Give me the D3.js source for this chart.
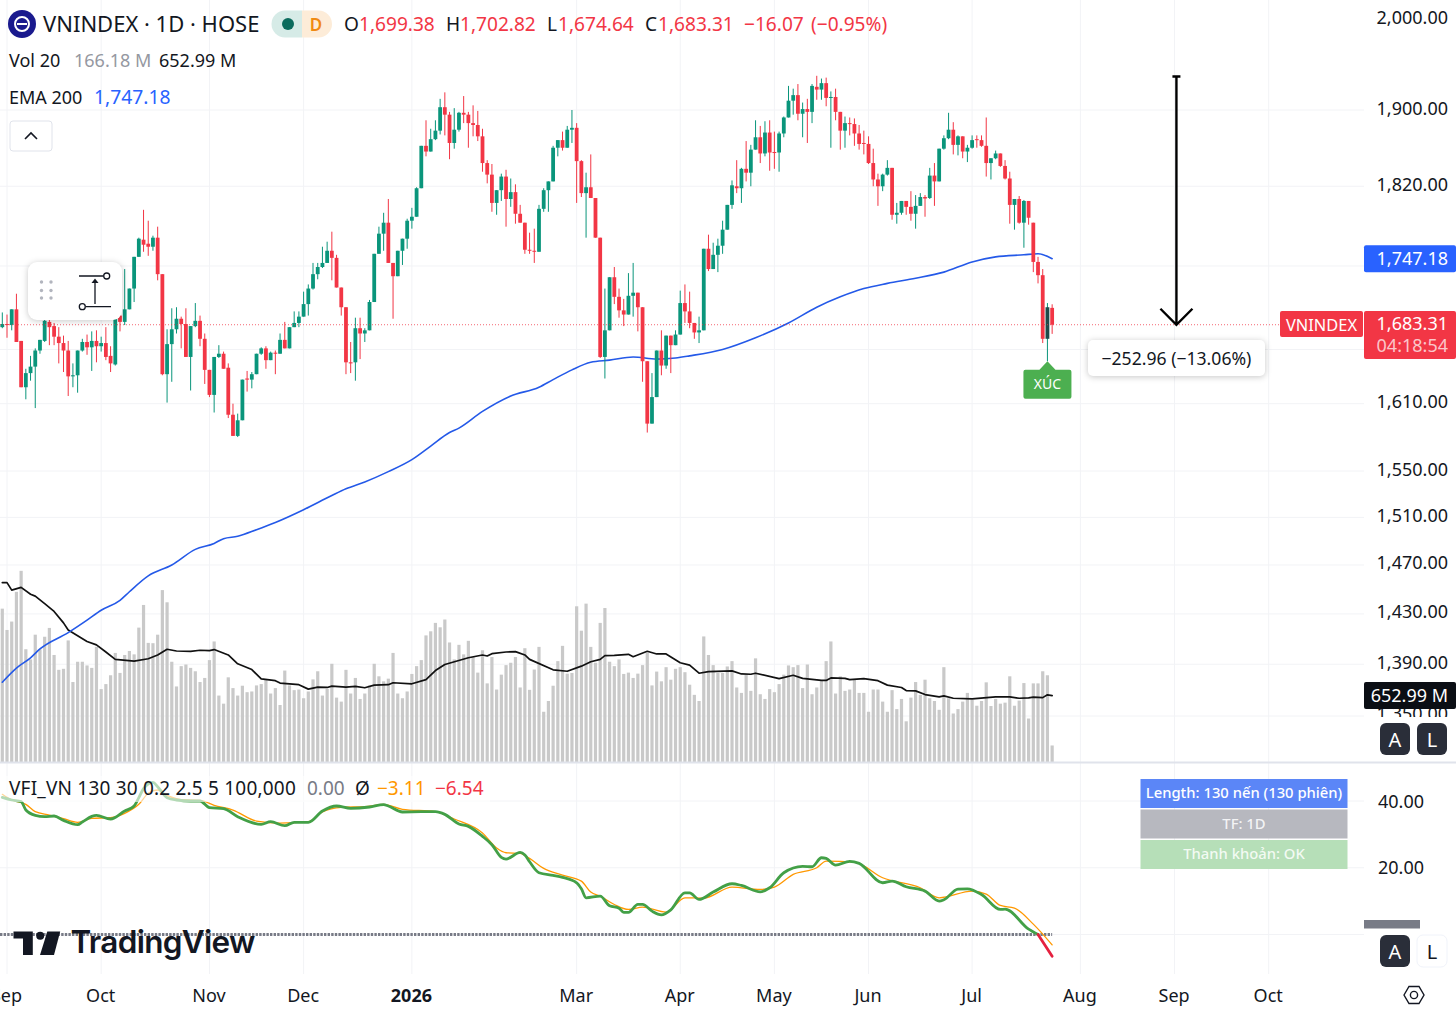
<!DOCTYPE html>
<html>
<head>
<meta charset="utf-8">
<style>
  body { margin: 0; background: #fff; }
  svg { display: block; font-family: 'Noto Sans', sans-serif; }
  .shadow { filter: drop-shadow(0 1px 3px rgba(0, 0, 0, 0.22)); }
</style>
<script src="https://cdn.jsdelivr.net/npm/d3@7"></script>
</head>
<body>
<div class="chart"></div>
<script>
// daily candles
const opens = [
  1681,1684,1683,1698,1668,1625,1638,1644,1659,1668,
  1686,1682,1672,1666,1659,1635,1636,1659,1667,1662,
  1668,1663,1666,1654,1646,1692,1686,1698,1718,1749,
  1766,1762,1759,1768,1732,1637,1665,1679,1689,1684,
  1653,1682,1687,1670,1641,1618,1653,1656,1643,1600,
  1581,1595,1633,1632,1637,1656,1661,1650,1657,1656,
  1669,1661,1681,1685,1691,1703,1718,1732,1739,1743,
  1755,1748,1719,1700,1648,1648,1680,1675,1678,1705,
  1752,1772,1783,1743,1730,1755,1767,1785,1789,1818,
  1862,1856,1869,1878,1903,1895,1865,1879,1897,1895,
  1886,1884,1872,1844,1832,1803,1816,1830,1807,1814,
  1792,1783,1756,1755,1754,1797,1816,1825,1860,1868,
  1860,1879,1881,1846,1813,1819,1808,1768,1653,1678,
  1729,1710,1697,1693,1711,1714,1700,1649,1592,1616,
  1659,1645,1673,1664,1674,1704,1696,1685,1676,1678,
  1757,1737,1751,1760,1776,1801,1820,1818,1838,1834,
  1858,1871,1854,1876,1855.5,1855,1875,1892,1910,1916,
  1896,1901,1898,1925,1922,1929,1913,1914,1898,1878,
  1886,1885,1875,1865,1864,1844,1827,1820,1832,1839,
  1791,1793,1805,1799,1792,1800,1809,1808,1831,1825,
  1859,1870,1879,1863,1872,1856,1860,1869,1868,1862,
  1844,1849,1854,1841,1828,1801,1807,1783,1805,1783,
  1744,1731,1670,1699.38,
];
const closes = [
  1684,1683,1698,1667,1625,1638,1644,1659,1669,1687,
  1681,1672,1666,1659,1635,1636,1659,1667,1662,1668,
  1663,1666,1653,1647,1689,1686,1698,1718,1749,1767,
  1761,1759,1768,1732,1637,1665,1679,1689,1684,1653,
  1682,1687,1670,1641,1618,1653,1656,1642,1600,1581,
  1595,1632,1632,1637,1656,1661,1650,1657,1656,1669,
  1661,1681,1685,1691,1703,1718,1732,1739,1743,1755,
  1748,1719,1700,1648,1647,1680,1675,1678,1705,1752,
  1772,1783,1743,1730,1755,1767,1785,1789,1818,1862,
  1856,1869,1878,1903,1895,1865,1879,1897,1895,1886,
  1884,1872,1844,1832,1803,1816,1830,1807,1814,1792,
  1783,1756,1755,1754.5,1797,1816,1825,1860,1868,1860,
  1879,1881,1846,1813,1819,1808,1768,1653,1678,1729,
  1710,1697,1693,1711,1714,1700,1649,1592,1616,1659,
  1645,1673,1664,1674,1704,1696,1685,1676,1678,1757,
  1737,1751,1760,1776,1801,1821,1818,1838,1834,1858,
  1871,1854,1876,1855,1855,1875,1892,1910,1916,1896,
  1901,1898,1926,1922,1929,1913,1914,1898,1878,1886,
  1885,1875,1864,1864,1844,1827,1820,1832,1839,1791,
  1793,1805,1799,1792,1800,1809,1807.5,1831,1825,1859,
  1870,1879,1863,1872,1856,1860,1868,1868,1862,1844,
  1849,1854,1841,1828,1801,1807,1783,1805,1788,1744,
  1731,1670,1700,1683.31,
];
const highs = [
  1695,1693,1698,1713,1668,1642,1654,1661,1669,1688,
  1689,1685,1681,1673,1668,1647,1659,1670,1674,1677,
  1678,1672,1681,1663,1689,1696,1737,1718,1749,1768,
  1796,1785,1770,1779,1732,1679,1699,1700,1691,1699,
  1682,1704,1692,1675,1641,1653,1664,1658,1647,1610,
  1601,1632,1640,1639,1656,1662,1663,1658,1659,1675,
  1686,1681,1696,1696,1715,1722,1743,1743,1759,1764,
  1774,1751,1719,1700,1667,1690,1690,1680,1707,1752,
  1779,1793,1807,1743,1755,1767,1787,1798,1819,1862,
  1889,1880,1889,1912,1919,1898,1902,1898,1915,1898,
  1905,1899,1880,1847,1843,1816,1833,1837,1828,1822,
  1801,1783,1773,1777,1801,1818,1825,1862,1868,1877,
  1883,1900,1886,1847,1834,1853,1808,1768,1718,1729,
  1739,1718,1708,1733,1743,1714,1700,1649,1638,1659,
  1678,1673,1673,1678,1716,1722,1715,1685,1691,1757,
  1771,1763,1767,1785,1801,1826,1847,1839,1867,1863,
  1889,1883,1888,1889,1877,1877,1893,1926,1923,1928,
  1908,1912,1928,1937,1934,1935,1920,1923,1898,1893,
  1892,1891,1884,1878,1872,1859,1833,1833,1847,1839,
  1803,1805,1805,1815,1811,1813,1811,1839,1844,1859,
  1873,1897,1887,1873,1872,1863,1873,1873,1873,1892,
  1849,1857,1854,1847,1835,1807,1810,1806,1805,1783,
  1749,1737,1704,1702.82,
];
const lows = [
  1680,1671,1678,1667,1625,1614,1631,1606,1656,1667,
  1664,1664,1647,1639,1617,1625,1620,1658,1655,1640,
  1648,1658,1650,1639,1645,1677,1683,1698,1705,1749,
  1754,1750,1755,1726,1636,1611,1630,1675,1661,1653,
  1622,1681,1663,1628,1616,1602,1652,1642,1597,1581,
  1580,1595,1621,1624,1637,1655,1642,1650,1637,1656,
  1661,1661,1681,1681,1691,1692,1717,1727,1738,1743,
  1726,1719,1692,1637,1638,1631,1651,1667,1678,1705,
  1752,1755,1743,1689,1730,1741,1757,1777,1789,1818,
  1851,1856,1868,1874,1873,1848,1859,1877,1886,1860,
  1872,1867,1835,1823,1794,1791,1805,1779,1799,1782,
  1783,1752,1752,1743,1754,1794,1794,1825,1851,1857,
  1860,1865,1803,1809,1768,1808,1768,1652,1633,1678,
  1703,1690,1682,1693,1691,1677,1630,1584,1592,1616,
  1636,1642,1638,1664,1674,1685,1680,1670,1666,1678,
  1735,1737,1734,1752,1776,1797,1813,1803,1825,1820,
  1858,1844,1851,1836,1838,1835,1871,1892,1895,1889,
  1871,1865,1886,1911,1911,1904,1860,1889,1858,1860,
  1873,1862,1858,1853,1843,1820,1800,1815,1831,1786,
  1782,1791,1791,1785,1777,1800,1789,1807,1800,1825,
  1858,1869,1853,1852,1849,1845,1859,1860,1861,1830,
  1827,1848,1840,1827,1782,1776,1782,1758,1781,1734,
  1723,1666,1649,1674.64,
];
// volume in millions, one per candle
const volumes = [
  1501,1293,1375,1665,1870,1105,1006,1247,1105,1227,
  1313,1049,904,914,1191,785,983,983,947,923,
  1128,716,765,851,1069,874,1049,1088,1055,1316,
  1537,1167,1164,1247,1682,1563,983,742,940,956,
  923,890,785,825,999,1181,653,574,831,726,
  653,749,686,693,752,765,808,673,726,561,
  897,752,706,712,627,693,811,890,653,719,
  963,633,594,904,673,825,620,673,752,963,
  841,792,818,1069,673,627,693,864,940,999,
  1240,1280,1362,1319,1395,1171,1006,1148,1055,1187,
  1029,877,1095,772,1029,712,857,950,973,1029,
  732,1115,709,907,1128,495,600,749,989,1138,
  867,874,1524,1286,1550,1128,973,1362,1507,983,
  940,1006,864,877,825,867,950,1072,752,887,
  792,930,808,914,930,881,759,660,600,1230,
  1049,950,874,874,937,989,732,679,857,699,
  1016,666,620,716,686,765,857,947,930,950,
  726,956,666,732,798,989,1181,673,841,699,
  712,808,679,679,495,712,712,594,495,706,
  521,620,402,633,785,660,808,627,600,514,
  930,627,478,521,594,679,610,554,600,782,
  551,620,574,584,841,554,604,775,429,772,
  772,890,851,166.18,
];

// the lines are sampled at these candles
const volMaBars = [0,1,2,4,6,7,9,11,13,14,16,18,20,22,24,28,31,33,35,37,40,42,44,45,48,50,53,55,58,59,63,65,67,69,70,73,75,77,79,82,83,87,90,92,94,99,102,103,104,107,109,111,112,117,120,123,125,127,128,130,133,134,137,139,141,144,146,148,150,155,157,159,160,165,168,170,174,175,176,179,180,183,186,188,191,192,194,196,199,200,202,206,211,214,216,218,219,221,222,223];
const volMaValues = [1755,1755,1682,1708,1642,1623,1550,1474,1362,1293,1237,1181,1148,1078,1006,989,1012,1049,1105,1088,1085,1095,1092,1102,1049,963,907,815,798,775,759,716,735,732,745,735,742,729,755,759,778,768,808,897,956,1022,1049,1039,1062,1078,1082,1049,1006,904,890,940,983,1006,1042,1045,1055,1032,1085,1059,1059,973,950,871,887,894,864,861,871,818,851,821,801,801,825,821,808,818,798,755,732,702,699,663,640,650,627,620,640,640,627,630,637,633,660,653];
const emaBars = [0,3,6,8,14,18,21,25,27,31,36,41,45,47,50,54,58,64,70,73,77,82,87,91,95,97,102,108,114,117,121,125,129,134,139,143,146,153,160,167,173,178,183,188,194,200,206,211,217,220,223];
const emaValues = [1376,1387,1395,1402,1415,1425,1433,1441,1448,1461,1470,1483,1488,1492,1494,1499.5,1505.6,1516.5,1528.7,1534.5,1540.5,1549.5,1560,1572,1584,1588,1603,1617,1625,1632,1641,1648,1650,1653,1651,1652,1654,1660,1671,1685,1700,1710,1718,1723,1728,1734,1744,1749,1751,1752,1747.18];
const vfiBars = [0,2,4,5,7,9,11,13,16,17,19,20,23,26,28,29,30,32,33,35,37,40,42,44,47,50,55,57,60,62,65,68,71,74,78,81,82,85,89,92,94,97,99,102,104,106,107,110,111,112,114,117,119,122,123,124,127,129,131,132,133,135,136,138,140,142,145,146,148,151,155,157,161,163,166,170,172,174,175,177,180,182,187,189,192,196,199,200,203,205,208,212,213,218,220,223];
const vfiValues = [41.1,40.3,39.8,37.3,35.7,35.3,35.5,34.2,32.9,33.7,35.4,35.7,34.6,37,38.5,41,43.7,45.6,44.3,41,40.3,40,40,38,37.7,35.3,33,33.8,32.6,33.6,33.6,37,38.5,37.8,38.2,38.9,38.5,36.7,36.8,36.8,36,33.1,32.4,29.4,26.9,23.1,22.6,24.6,23.8,21.8,18.5,17.7,17.1,15.5,13.7,11,11.5,8.6,7.9,6.6,6.6,9,9,7,5.9,7.4,12.5,12.5,10.5,12.7,15.2,14.7,12.8,14,18.5,20.4,20.3,23,22.8,20.8,21.9,21.3,15.5,16,14.3,13,10,10.4,13.6,13.7,12,7.5,7.6,1.6,0,-6.54];
const signalBars = [0,2,5,7,10,13,16,19,23,26,29,31,33,35,39,42,45,49,54,59,65,68,72,77,81,85,92,96,102,105,107,110,112,115,119,123,125,127,130,133,136,141,145,149,155,161,164,168,173,175,181,187,195,199,206,209,212,215,219,223];
const signalValues = [42,40.3,39,36.8,35.8,34.7,33.6,34.8,35,36.3,39,42.3,43.3,41.7,40.3,40.2,38.7,37.3,34,33.4,33.8,36.7,38.1,38.3,39,37.5,36.8,34.6,30.4,25.9,24.5,24.3,22.8,19.8,17.8,16,12.7,11.5,9,7.5,8.2,6.7,11,10.9,14.2,13.5,14.2,18,20,22,21.7,17,14,11,13,12.1,8.7,7.9,3.1,-3.11];

// axis ticks
const priceTicks = [2000, 1900, 1820, 1610, 1550, 1510, 1470, 1430, 1390];
const priceGrid = [1900, 1820, 1740, 1660, 1610, 1550, 1510, 1470, 1430, 1390, 1350];
const vfiTicks = [40, 20];
const monthBars = [1, 21, 44, 64, 87, 122, 144, 164, 184, 206, 229, 249, 269];
const monthLabels = ['Sep', 'Oct', 'Nov', 'Dec', '2026', 'Mar', 'Apr', 'May', 'Jun', 'Jul', 'Aug', 'Sep', 'Oct'];

// the measure drawing on the chart
const measureBar = 249.4;
const measureFrom = 1936.27;
const measureTo = 1683.31;
const lastClose = 1683.31;
const lastEma = 1747.18;
const lastVolMa = 652.99;
const signalBar = 222;
const signalPrice = 1649;

const width = 1456;
const height = 1014;
const paneRight = 1364;
const green = '#0a957b';
const red = '#f23645';
const gridColor = '#f2f3f6';

const svg = d3
  .select('.chart')
  .append('svg')
  .attr('width', width)
  .attr('height', height);

const x = d3.scaleLinear().domain([0, 269]).range([2.3, 1268.7]);
const y = d3.scaleLog().domain([1350, 1900]).range([716, 110]);
const volY = d3.scaleLinear().domain([0, 1000]).range([762.5, 660]);
const vfiY = d3.scaleLinear().domain([0, 40]).range([934.5, 801]);

const addText = (parent, px, py, str, opts = {}) =>
  parent
    .append('text')
    .attr('x', px)
    .attr('y', py)
    .attr('dominant-baseline', 'central')
    .attr('text-anchor', opts.anchor || 'start')
    .attr('font-size', opts.size || 18)
    .attr('font-weight', opts.weight || 400)
    .attr('fill', opts.fill || '#131722')
    .text(str);

// grid
const grid = svg.append('g');
grid
  .selectAll('.vgrid')
  .data(monthBars)
  .enter()
  .append('line')
  .attr('x1', (d) => x(d))
  .attr('x2', (d) => x(d))
  .attr('y1', 0)
  .attr('y2', 974)
  .attr('stroke', gridColor);
grid
  .selectAll('.hgrid')
  .data(priceGrid)
  .enter()
  .append('line')
  .attr('x1', 0)
  .attr('x2', paneRight)
  .attr('y1', (d) => y(d))
  .attr('y2', (d) => y(d))
  .attr('stroke', gridColor);
grid
  .selectAll('.vfigrid')
  .data(vfiTicks.concat(0))
  .enter()
  .append('line')
  .attr('x1', 0)
  .attr('x2', paneRight)
  .attr('y1', (d) => vfiY(d))
  .attr('y2', (d) => vfiY(d))
  .attr('stroke', gridColor);

// volume
svg
  .append('g')
  .selectAll('rect')
  .data(volumes)
  .enter()
  .append('rect')
  .attr('x', (d, i) => x(i) - 1.6)
  .attr('y', (d) => volY(d))
  .attr('width', 3.2)
  .attr('height', (d) => volY(0) - volY(d))
  .attr('fill', '#c9c9c9');

const drawLine = (bars, values, yScale, color, lineW, curve = d3.curveLinear) =>
  svg
    .append('path')
    .attr(
      'd',
      d3
        .line()
        .curve(curve)
        .x((d) => x(d))
        .y((d, i) => yScale(values[i]))(bars)
    )
    .attr('fill', 'none')
    .attr('stroke', color)
    .attr('stroke-width', lineW)
    .attr('stroke-linejoin', 'round')
    .attr('stroke-linecap', 'round');

drawLine(volMaBars, volMaValues, volY, '#111', 1.7);
drawLine(emaBars, emaValues, y, '#2459e8', 1.6, d3.curveMonotoneX);

// candles
const candles = svg
  .append('g')
  .selectAll('g')
  .data(opens)
  .enter()
  .append('g');
const candleColor = (i) => {
  if (i === signalBar) return '#1d4a4a';
  return closes[i] >= opens[i] ? green : red;
};
candles
  .append('line')
  .attr('x1', (d, i) => x(i))
  .attr('x2', (d, i) => x(i))
  .attr('y1', (d, i) => y(highs[i]))
  .attr('y2', (d, i) => y(lows[i]))
  .attr('stroke', (d, i) => (i === signalBar ? green : candleColor(i)))
  .attr('stroke-width', 1);
candles
  .append('rect')
  .attr('x', (d, i) => x(i) - 1.9)
  .attr('width', 3.8)
  .attr('y', (d, i) => y(Math.max(opens[i], closes[i])))
  .attr('height', (d, i) =>
    Math.max(1, Math.abs(y(opens[i]) - y(closes[i])))
  )
  .attr('fill', (d, i) => candleColor(i));

// last price line
svg
  .append('line')
  .attr('x1', 0)
  .attr('x2', 1280)
  .attr('y1', y(lastClose))
  .attr('y2', y(lastClose))
  .attr('stroke', red)
  .attr('stroke-opacity', 0.75)
  .attr('stroke-dasharray', '1 2');

// VFI pane
svg
  .append('line')
  .attr('x1', 0)
  .attr('x2', x(223))
  .attr('y1', vfiY(0))
  .attr('y2', vfiY(0))
  .attr('stroke', '#787b86')
  .attr('stroke-width', 3)
  .attr('stroke-dasharray', '2.4 1.2');
drawLine(signalBars, signalValues, vfiY, '#ff9800', 1.3, d3.curveMonotoneX);
const above = vfiBars.filter((d, i) => vfiValues[i] >= 0);
const below = vfiBars.filter((d, i) => vfiValues[i] <= 0);
drawLine(above, vfiValues.filter((d) => d >= 0), vfiY, '#43a047', 2.8, d3.curveMonotoneX);
drawLine(below, vfiValues.filter((d) => d <= 0), vfiY, '#e5213f', 2.8);

// pane separator
svg
  .append('line')
  .attr('x1', 0)
  .attr('x2', width)
  .attr('y1', 762.5)
  .attr('y2', 762.5)
  .attr('stroke', '#e0e3eb')
  .attr('stroke-width', 2);

// price axis
const priceAxis = svg
  .append('g')
  .attr('transform', 'translate(1448, 0)')
  .call(
    d3
      .axisRight(y)
      .tickValues(priceTicks)
      .tickSize(0)
      .tickFormat(d3.format(',.2f'))
  );
priceAxis.select('.domain').remove();
priceAxis
  .selectAll('text')
  .attr('x', 0)
  .attr('dy', null)
  .attr('y', -3)
  .attr('dominant-baseline', 'central')
  .attr('text-anchor', 'end')
  .attr('font-size', 18)
  .attr('font-family', "'Noto Sans', sans-serif")
  .attr('fill', '#131722');

// 1,350.00 sits behind the volume label, only a sliver shows
svg
  .append('clipPath')
  .attr('id', 'clip1350')
  .append('rect')
  .attr('x', 1364)
  .attr('y', 709)
  .attr('width', 92)
  .attr('height', 8);
addText(svg, 1448, y(1350) - 3, d3.format(',.2f')(1350), { anchor: 'end' }).attr(
  'clip-path',
  'url(#clip1350)'
);

// VFI axis
const vfiAxis = svg
  .append('g')
  .attr('transform', 'translate(1378, 0)')
  .call(
    d3
      .axisRight(vfiY)
      .tickValues(vfiTicks)
      .tickSize(0)
      .tickFormat(d3.format('.2f'))
  );
vfiAxis.select('.domain').remove();
vfiAxis
  .selectAll('text')
  .attr('x', 0)
  .attr('dy', null)
  .attr('y', -1)
  .attr('dominant-baseline', 'central')
  .attr('font-size', 18)
  .attr('font-family', "'Noto Sans', sans-serif")
  .attr('fill', '#131722');

// time axis
const timeAxis = svg
  .append('g')
  .attr('transform', 'translate(-1, 995)')
  .call(
    d3
      .axisBottom(x)
      .tickValues(monthBars)
      .tickSize(0)
      .tickFormat((d, i) => monthLabels[i])
  );
timeAxis.select('.domain').remove();
timeAxis
  .selectAll('text')
  .attr('y', 0)
  .attr('dy', null)
  .attr('dominant-baseline', 'central')
  .attr('font-size', 18)
  .attr('font-family', "'Noto Sans', sans-serif")
  .attr('fill', '#131722')
  .attr('font-weight', (d) => (d === 87 ? 700 : 400));

// legend veil over the VFI lines
svg
  .append('rect')
  .attr('x', 0)
  .attr('y', 776)
  .attr('width', 490)
  .attr('height', 26)
  .attr('fill', '#fff')
  .attr('opacity', 0.6);

// header
const logo = svg.append('g');
logo.append('circle').attr('cx', 22).attr('cy', 24).attr('r', 14).attr('fill', '#1a1a8e');
logo
  .append('circle')
  .attr('cx', 22)
  .attr('cy', 24)
  .attr('r', 7)
  .attr('fill', 'none')
  .attr('stroke', '#fff')
  .attr('stroke-width', 2);
logo.append('rect').attr('x', 17).attr('y', 23).attr('width', 10).attr('height', 2).attr('fill', '#fff');
addText(svg, 43, 23, 'VNINDEX · 1D · HOSE', { size: 22 });

svg.append('path').attr('d', 'M302,10.5H285a13.5,13.5 0 0 0 0,27H302Z').attr('fill', '#d6ebe7');
svg.append('path').attr('d', 'M302,10.5H318.5a13.5,13.5 0 0 1 0,27H302Z').attr('fill', '#fdecd8');
svg.append('circle').attr('cx', 288).attr('cy', 24).attr('r', 6).attr('fill', '#0b6b5d');
addText(svg, 316, 24, 'D', { size: 17, anchor: 'middle', fill: '#f08a12', weight: 600 });

[
  ['O', 344, '#131722'],
  ['1,699.38', 359, red],
  ['H', 446, '#131722'],
  ['1,702.82', 460, red],
  ['L', 547, '#131722'],
  ['1,674.64', 558, red],
  ['C', 645, '#131722'],
  ['1,683.31', 658, red],
  ['−16.07', 744, red],
  ['(−0.95%)', 811, red],
].forEach(([str, px, fill]) => addText(svg, px, 23.5, str, { fill, size: 19.1 }));

addText(svg, 9, 60, 'Vol 20');
addText(svg, 74, 60, '166.18 M', { fill: '#9598a1' });
addText(svg, 159, 60, '652.99 M');
addText(svg, 9, 97, 'EMA 200');
addText(svg, 94, 96.5, '1,747.18', { fill: '#2962ff', size: 19.3 });

svg
  .append('rect')
  .attr('x', 10)
  .attr('y', 121)
  .attr('width', 42)
  .attr('height', 30)
  .attr('rx', 3)
  .attr('fill', '#fff')
  .attr('stroke', '#e0e3eb');
svg
  .append('path')
  .attr('d', 'M25,139L31,133L37,139')
  .attr('fill', 'none')
  .attr('stroke', '#131722')
  .attr('stroke-width', 1.6);

addText(svg, 9, 787.5, 'VFI_VN 130 30 0.2 2.5 5 100,000', { size: 19 }).attr('letter-spacing', 0.2);
addText(svg, 307, 787.5, '0.00', { fill: '#787b86', size: 19 });
addText(svg, 355, 787.5, 'Ø', { size: 19 });
addText(svg, 377, 787.5, '−3.11', { fill: '#ff9800', size: 19 });
addText(svg, 435, 787.5, '−6.54', { fill: red, size: 19 });

// floating tool box
const tool = svg.append('g');
tool
  .append('rect')
  .attr('class', 'shadow')
  .attr('x', 28)
  .attr('y', 262)
  .attr('width', 94)
  .attr('height', 58)
  .attr('rx', 9)
  .attr('fill', '#fff');
[41.5, 51].forEach((cx) => {
  [282, 290.5, 298].forEach((cy) => {
    tool.append('circle').attr('cx', cx).attr('cy', cy).attr('r', 1.7).attr('fill', '#b2b5be');
  });
});
tool
  .append('path')
  .attr('d', 'M79,276H103.5M95,304V281M86,306.7H111')
  .attr('stroke', '#131722')
  .attr('stroke-width', 1.3)
  .attr('fill', 'none');
tool.append('path').attr('d', 'M91.5,283L95,278.5L98.5,283Z').attr('fill', '#131722');
[[106.7, 276], [82.3, 306.7]].forEach(([cx, cy]) => {
  tool
    .append('circle')
    .attr('cx', cx)
    .attr('cy', cy)
    .attr('r', 3)
    .attr('fill', '#fff')
    .attr('stroke', '#131722')
    .attr('stroke-width', 1.3);
});

// measure arrow
const mx = x(measureBar);
svg
  .append('path')
  .attr(
    'd',
    `M${mx - 4},${y(measureFrom)}H${mx + 4}M${mx},${y(measureFrom)}V${y(measureTo)}` +
      `M${mx - 16},${y(measureTo) - 16}L${mx},${y(measureTo)}L${mx + 16},${y(measureTo) - 16}`
  )
  .attr('fill', 'none')
  .attr('stroke', '#000')
  .attr('stroke-width', 2.4);
svg
  .append('rect')
  .attr('class', 'shadow')
  .attr('x', 1088)
  .attr('y', 340)
  .attr('width', 177)
  .attr('height', 36)
  .attr('rx', 5)
  .attr('fill', '#fff');
addText(svg, mx, 358, '−252.96 (−13.06%)', { anchor: 'middle', size: 17.6 });

// XÚC marker
const sx = x(signalBar);
const sy = y(signalPrice);
svg
  .append('path')
  .attr(
    'd',
    `M${sx},${sy}l8,8.5h14a2,2 0 0 1 2,2v25a2,2 0 0 1 -2,2h-44a2,2 0 0 1 -2,-2v-25a2,2 0 0 1 2,-2h14Z`
  )
  .attr('fill', '#4caf50');
addText(svg, sx, sy + 22, 'XÚC', { anchor: 'middle', size: 14, fill: '#fff' });

// price labels on the right
const priceLabel = (py, h, fill) =>
  svg
    .append('rect')
    .attr('x', 1364)
    .attr('y', py)
    .attr('width', 92)
    .attr('height', h)
    .attr('rx', 2)
    .attr('fill', fill);
priceLabel(y(lastEma) - 13.5, 27, '#2962ff');
addText(svg, 1448, y(lastEma) - 1, d3.format(',.2f')(lastEma), { anchor: 'end', fill: '#fff' });

svg
  .append('rect')
  .attr('x', 1280)
  .attr('y', 311)
  .attr('width', 83)
  .attr('height', 26)
  .attr('rx', 2)
  .attr('fill', red);
addText(svg, 1321.5, 324, 'VNINDEX', { anchor: 'middle', fill: '#fff', size: 16.4 });
priceLabel(311, 48, red);
addText(svg, 1448, 323, d3.format(',.2f')(lastClose), { anchor: 'end', fill: '#fff' });
addText(svg, 1448, 345, '04:18:54', { anchor: 'end', fill: '#fff' }).attr('fill-opacity', 0.72);

priceLabel(682, 27, '#0b0e14');
addText(svg, 1448, 695, `${d3.format('.2f')(lastVolMa)} M`, { anchor: 'end', fill: '#fff' });

// VFI zero label, nearly all hidden behind the buttons
svg
  .append('rect')
  .attr('x', 1364)
  .attr('y', 920)
  .attr('width', 56)
  .attr('height', 8.5)
  .attr('fill', '#787b86');
svg
  .append('clipPath')
  .attr('id', 'clipZero')
  .append('rect')
  .attr('x', 1364)
  .attr('y', 920)
  .attr('width', 56)
  .attr('height', 8.5);
addText(svg, 1378, vfiY(0), d3.format('.2f')(0), { fill: '#fff' }).attr(
  'clip-path',
  'url(#clipZero)'
);

// auto / log buttons
const scaleButton = (px, py, str, dark) => {
  svg
    .append('rect')
    .attr('x', px)
    .attr('y', py)
    .attr('width', 30)
    .attr('height', 32)
    .attr('rx', 6)
    .attr('fill', dark ? '#2a2e39' : '#fff')
    .attr('stroke', dark ? 'none' : '#f0f3fa');
  addText(svg, px + 15, py + 16, str, {
    anchor: 'middle',
    size: 20,
    fill: dark ? '#fff' : '#131722',
  });
};
scaleButton(1380, 723, 'A', true);
scaleButton(1417, 723, 'L', true);
scaleButton(1380, 935, 'A', true);
scaleButton(1417, 935, 'L', false);

// settings hexagon
svg
  .append('path')
  .attr('d', 'M1404,995L1409,986.5H1419L1424,995L1419,1003.5H1409Z')
  .attr('fill', 'none')
  .attr('stroke', '#131722')
  .attr('stroke-width', 1.4);
svg
  .append('circle')
  .attr('cx', 1414)
  .attr('cy', 995)
  .attr('r', 3.6)
  .attr('fill', 'none')
  .attr('stroke', '#131722')
  .attr('stroke-width', 1.4);

// status table
const tableRows = ['Length: 130 nến (130 phiên)', 'TF: 1D', 'Thanh khoản: OK'];
const tableFills = ['#5b86f7', '#b7b8bf', '#b6dfb8'];
tableRows.forEach((row, i) => {
  svg
    .append('rect')
    .attr('x', 1140.5)
    .attr('y', 779 + i * 30.5)
    .attr('width', 207)
    .attr('height', 29)
    .attr('fill', tableFills[i]);
  addText(svg, 1244, 792 + i * 30.5, row, {
    anchor: 'middle',
    size: 14.8,
    weight: 500,
    fill: '#fff',
  }).attr('fill-opacity', i === 0 ? 1 : 0.85);
});

// TradingView mark
const mark = svg.append('g').attr('fill', '#131722');
mark.append('path').attr('d', 'M13.5,931.6H32.8V955H23V938.4H13.5Z');
mark.append('circle').attr('cx', 40.2).attr('cy', 935.7).attr('r', 4);
mark.append('path').attr('d', 'M47.3,931.6H60.2L54,955H40Z');
addText(mark, 70.5, 941.5, 'TradingView', { size: 31.5, weight: 600, fill: '#131722' })
  .attr('font-family', 'Inter')
  .attr('letter-spacing', -0.7);
</script>
</body>
</html>
